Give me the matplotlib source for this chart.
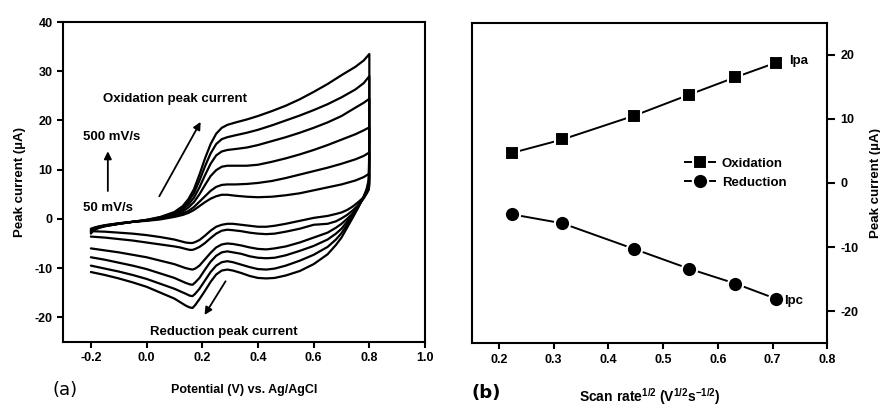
import numpy as np
import matplotlib
matplotlib.use("Agg")
import matplotlib.pyplot as plt

plt.rcParams['font.family'] = ['Liberation Sans', 'DejaVu Sans']
plt.rcParams['font.weight'] = 'bold'
plt.rcParams['axes.labelweight'] = 'bold'
plt.rcParams['axes.unicode_minus'] = False
plt.rcParams['mathtext.fontset'] = 'custom'
plt.rcParams['mathtext.rm'] = 'Liberation Sans:bold'
plt.rcParams['mathtext.bf'] = 'Liberation Sans:bold'

# (a) cyclic voltammograms, 50..500 mV/s (forward and reverse sweeps)
E_fwd = [-0.2, -0.19, -0.17, -0.15, -0.1, -0.05, 0.0, 0.05, 0.1, 0.13, 0.15,
         0.17, 0.19, 0.21, 0.23, 0.25, 0.27, 0.29, 0.32, 0.36, 0.4, 0.45, 0.5,
         0.55, 0.6, 0.65, 0.7, 0.75, 0.78, 0.8]
E_rev = [0.8, 0.8, 0.798, 0.79, 0.78, 0.76, 0.74, 0.72, 0.7, 0.68, 0.65, 0.6,
         0.55, 0.5, 0.46, 0.43, 0.4, 0.37, 0.34, 0.31, 0.29, 0.27, 0.25, 0.23,
         0.21, 0.19, 0.175, 0.165, 0.155, 0.14, 0.12, 0.1, 0.05, 0.0, -0.05,
         -0.1, -0.15, -0.2]

fwd_50 = [-2.0, -1.8, -1.5, -1.3, -0.9, -0.6, -0.4, -0.1, 0.4, 0.8, 1.2, 1.8,
          2.6, 3.4, 4.1, 4.6, 4.9, 4.9, 4.7, 4.5, 4.4, 4.5, 4.8, 5.2, 5.8, 6.4,
          7.0, 7.8, 8.5, 9.2]
fwd_100 = [-2.2, -1.9, -1.6, -1.3, -0.9, -0.6, -0.3, 0.0, 0.6, 1.1, 1.6, 2.4,
           3.5, 4.6, 5.7, 6.5, 6.9, 7.0, 7.0, 7.1, 7.3, 7.7, 8.3, 9.0, 9.7,
           10.4, 11.2, 12.1, 12.8, 13.5]
fwd_200 = [-2.4, -2.0, -1.7, -1.4, -1.0, -0.6, -0.3, 0.1, 0.8, 1.5, 2.3, 3.4,
           5.0, 6.9, 8.7, 9.9, 10.6, 10.8, 10.8, 10.8, 11.0, 11.6, 12.3, 13.1,
           14.0, 15.0, 16.1, 17.2, 18.0, 18.6]
fwd_300 = [-2.6, -2.1, -1.7, -1.4, -1.0, -0.6, -0.3, 0.2, 1.0, 1.9, 2.9, 4.3,
           6.4, 8.9, 11.2, 12.9, 13.7, 14.0, 14.2, 14.5, 15.0, 15.8, 16.6,
           17.5, 18.5, 19.6, 20.9, 22.6, 23.6, 24.4]
fwd_400 = [-2.8, -2.2, -1.8, -1.5, -1.0, -0.6, -0.2, 0.3, 1.2, 2.3, 3.5, 5.2,
           7.8, 10.7, 13.3, 15.2, 16.2, 16.6, 17.0, 17.5, 18.1, 19.0, 20.0,
           21.0, 22.1, 23.3, 24.7, 26.3, 27.6, 29.0]
fwd_500 = [-3.0, -2.3, -1.8, -1.5, -1.0, -0.6, -0.2, 0.4, 1.4, 2.6, 4.0, 6.0,
           9.0, 12.3, 15.2, 17.3, 18.5, 19.1, 19.6, 20.2, 20.9, 21.9, 23.0,
           24.3, 25.8, 27.4, 29.2, 30.9, 32.2, 33.5]

rev_50 = [9.2, 7.0, 6.0, 5.2, 4.4, 3.4, 2.5, 1.8, 1.3, 1.0, 0.6, 0.2, -0.4,
          -1.0, -1.4, -1.6, -1.6, -1.4, -1.2, -1.0, -1.0, -1.2, -1.6, -2.4,
          -3.4, -4.3, -4.7, -4.9, -4.9, -4.8, -4.5, -4.2, -3.7, -3.3, -3.0,
          -2.8, -2.6, -2.5]
rev_100 = [13.5, 8.0, 6.0, 5.1, 4.2, 2.8, 1.7, 0.8, 0.1, -0.5, -1.0, -1.2,
           -2.0, -2.6, -3.0, -3.1, -3.0, -2.8, -2.5, -2.3, -2.2, -2.4, -3.0,
           -3.9, -4.9, -5.7, -6.1, -6.3, -6.3, -6.1, -5.8, -5.6, -5.2, -4.8,
           -4.4, -4.1, -3.8, -3.6]
rev_200 = [18.6, 10.0, 6.5, 5.4, 4.3, 2.6, 1.1, 0.0, -1.0, -1.8, -2.8, -3.8,
           -4.8, -5.6, -6.0, -6.2, -6.1, -5.8, -5.4, -5.1, -5.0, -5.2, -5.8,
           -6.9, -8.2, -9.5, -10.1, -10.3, -10.2, -10.0, -9.6, -9.2, -8.5,
           -7.8, -7.3, -6.8, -6.4, -6.0]
rev_300 = [24.4, 12.0, 7.0, 5.6, 4.4, 2.5, 0.8, -0.6, -2.0, -3.0, -4.2, -5.5,
           -6.5, -7.4, -7.9, -8.0, -7.9, -7.6, -7.1, -6.8, -6.6, -6.8, -7.5,
           -8.7, -10.3, -12.0, -12.9, -13.4, -13.3, -13.0, -12.5, -12.0,
           -11.1, -10.2, -9.5, -8.9, -8.3, -7.8]
rev_400 = [29.0, 14.0, 7.5, 5.8, 4.5, 2.4, 0.5, -1.2, -2.9, -4.2, -5.7, -7.3,
           -8.5, -9.5, -10.1, -10.3, -10.2, -9.8, -9.3, -8.8, -8.6, -8.8,
           -9.5, -10.8, -12.5, -14.2, -15.2, -15.7, -15.6, -15.2, -14.7,
           -14.2, -13.2, -12.2, -11.4, -10.7, -10.1, -9.5]
rev_500 = [33.5, 16.0, 8.0, 6.0, 4.6, 2.3, 0.2, -1.8, -3.8, -5.3, -7.2, -9.2,
           -10.6, -11.5, -12.0, -12.1, -12.0, -11.6, -11.0, -10.5, -10.3,
           -10.5, -11.3, -12.8, -14.6, -16.3, -17.5, -18.1, -18.0, -17.6,
           -16.9, -16.2, -15.0, -13.8, -12.9, -12.1, -11.4, -10.8]

forward_sets = [fwd_50, fwd_100, fwd_200, fwd_300, fwd_400, fwd_500]
reverse_sets = [rev_50, rev_100, rev_200, rev_300, rev_400, rev_500]

# (b) peak currents vs sqrt(scan rate)
sqrt_rate = [0.224, 0.316, 0.447, 0.548, 0.632, 0.707]
ipa = [4.7, 6.8, 10.5, 13.8, 16.5, 18.8]
ipc = [-4.9, -6.3, -10.3, -13.4, -15.7, -18.1]

fig = plt.figure(figsize=(8.8, 4.08), dpi=100)
ax1 = fig.add_axes([0.0716, 0.162, 0.4114, 0.784])
ax2 = fig.add_axes([0.536, 0.159, 0.404, 0.785])

for ax in (ax1, ax2):
    for s in ax.spines.values():
        s.set_linewidth(1.5)
    ax.tick_params(direction='out', width=1.5, length=4, labelsize=9)

# panel (a)
for f, r in zip(forward_sets, reverse_sets):
    ax1.plot(E_fwd + E_rev, f + r, color='black', lw=1.6,
             solid_joinstyle='round', solid_capstyle='round')

ax1.set_xlim(-0.3, 1.0)
ax1.set_ylim(-25, 40)
ax1.set_xticks(np.arange(-0.2, 1.01, 0.2))
ax1.set_yticks(np.arange(-20, 41, 10))
ax1.set_xlabel('Potential (V) vs. Ag/AgCl', fontsize=9, fontweight='bold', labelpad=14)
ax1.set_ylabel('Peak current (µA)', fontsize=9.5, fontweight='bold', labelpad=6)

arrow = dict(arrowstyle='-|>', color='black', lw=1.3, mutation_scale=11)
ax1.annotate('', xy=(0.199, 20.2), xytext=(0.041, 4.1), arrowprops=arrow)
ax1.annotate('', xy=(-0.139, 14.3), xytext=(-0.139, 5.1), arrowprops=arrow)
ax1.annotate('', xy=(0.203, -20.0), xytext=(0.289, -12.2), arrowprops=arrow)
ax1.text(-0.157, 24.3, 'Oxidation peak current', fontsize=9.5, va='center')
ax1.text(-0.229, 16.7, '500 mV/s', fontsize=9.5, va='center')
ax1.text(-0.229, 2.2, '50 mV/s', fontsize=9.5, va='center')
ax1.text(0.012, -22.9, 'Reduction peak current', fontsize=9.5, va='center')

# panel (b)
ax2.plot(sqrt_rate, ipa, color='black', lw=1.4, marker='s', ms=10.5,
         mfc='black', mec='white', mew=1.5, label='Oxidation')
ax2.plot(sqrt_rate, ipc, color='black', lw=1.4, marker='o', ms=11,
         mfc='black', mec='white', mew=1.5, label='Reduction')
ax2.set_xlim(0.15, 0.8)
ax2.set_ylim(-25, 25)
ax2.set_xticks(np.arange(0.2, 0.81, 0.1))
ax2.set_yticks([-20, -10, 0, 10, 20])
ax2.yaxis.tick_right()
ax2.yaxis.set_label_position('right')
ax2.tick_params(axis='y', length=6)
ax2.set_xlabel(r'Scan rate$^{\mathbf{1/2}}$ (V$^{\mathbf{1/2}}$s$^{\mathbf{-1/2}}$)',
               fontsize=10, fontweight='bold', labelpad=15)
ax2.set_ylabel('Peak current (µA)', fontsize=9.5, fontweight='bold', labelpad=8)
ax2.text(0.73, 19.1, 'Ipa', fontsize=9.5, va='center')
ax2.text(0.722, -18.5, 'Ipc', fontsize=9.5, va='center')
ax2.legend(loc='center left', bbox_to_anchor=(0.6, 0.531), frameon=False,
           fontsize=9.5, handlelength=2.3, handletextpad=0.5,
           labelspacing=0.5, borderpad=0, borderaxespad=0)

fig.text(0.06, 0.044, '(a)', fontsize=13, fontweight='normal',
         family='DejaVu Sans', va='center')
fig.text(0.536, 0.037, '(b)', fontsize=13, fontweight='bold',
         family='DejaVu Sans', va='center')

fig.savefig('out.png', dpi=100)
